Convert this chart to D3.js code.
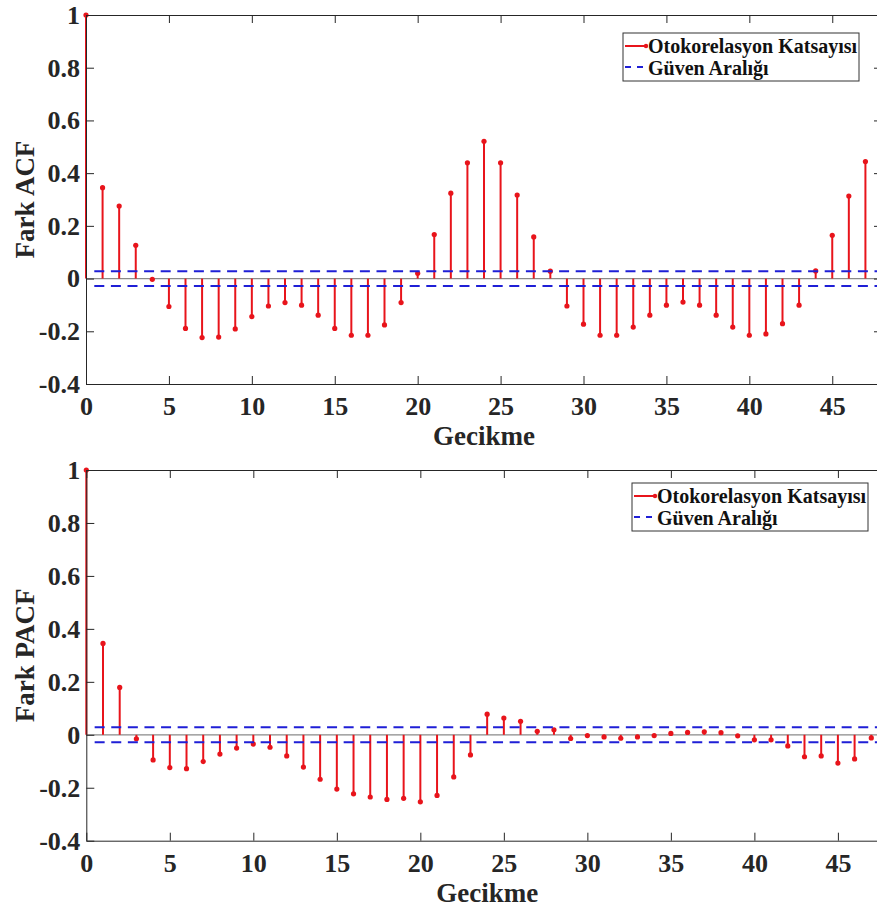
<!DOCTYPE html>
<html>
<head>
<meta charset="utf-8">
<script src="https://cdn.jsdelivr.net/npm/d3@7"></script>
<style>
  body { margin: 0; background: #fff; }
  svg { display: block; }
  .axis path, .axis line { stroke: #262626; stroke-width: 1; }
</style>
</head>
<body>
<svg id="chart" width="877" height="908"></svg>
<script>
// lags 0..47
const lags = d3.range(0, 48);

// differenced series ACF
const acfValues = [
  1.000, 0.345, 0.275, 0.126, -0.003, -0.106, -0.189, -0.224, -0.222, -0.191,
  -0.144, -0.104, -0.091, -0.101, -0.139, -0.189, -0.215, -0.215, -0.176, -0.091,
  0.020, 0.167, 0.324, 0.439, 0.521, 0.439, 0.317, 0.158, 0.028, -0.104,
  -0.173, -0.215, -0.215, -0.184, -0.139, -0.101, -0.089, -0.101, -0.139, -0.184,
  -0.215, -0.210, -0.171, -0.101, 0.029, 0.164, 0.313, 0.444
];

// differenced series PACF, bottom panel
const pacfValues = [
  1.000, 0.345, 0.179, -0.015, -0.095, -0.124, -0.128, -0.101, -0.073, -0.050,
  -0.035, -0.047, -0.080, -0.122, -0.168, -0.205, -0.223, -0.235, -0.244, -0.240,
  -0.253, -0.229, -0.159, -0.076, 0.078, 0.063, 0.051, 0.013, 0.019, -0.014,
  -0.003, -0.008, -0.013, -0.008, -0.003, 0.005, 0.009, 0.011, 0.008, -0.004,
  -0.019, -0.019, -0.042, -0.083, -0.080, -0.107, -0.091, -0.012
];

const confBound = 0.028;           // +/- confidence band
const boundStart = 0.5;            // bounds drawn from lag 0.5
const xDomain = [0, 48];
const yDomain = [-0.4, 1];
const xTicks = [0, 5, 10, 15, 20, 25, 30, 35, 40, 45];
const yTicks = [-0.4, -0.2, 0, 0.2, 0.4, 0.6, 0.8, 1];
const legendLabels = ['Otokorelasyon Katsayısı', 'Güven Aralığı'];

const FONT = '"Liberation Serif", "DejaVu Serif", "Times New Roman", serif';
const RED = '#e8141b';
const BLUE = '#1f1fd6';

const svg = d3.select('#chart');
svg.append('rect').attr('width', 877).attr('height', 908).attr('fill', '#fff');

const panels = [
  { values: acfValues, ylabel: 'Fark ACF', left: 86, right: 882, top: 15, bottom: 384, legend: { x: 623, y: 33 } },
  { values: pacfValues, ylabel: 'Fark PACF', left: 86.3, right: 888, top: 470, bottom: 840.7, legend: { x: 632, y: 483 } },
];

panels.forEach(drawPanel);

// matlab-style labels: plain hyphen, no trailing zeros on 0 and 1
function yFmt(d) {
  if (d === 0) return '0';
  if (d === 1) return '1';
  return (d < 0 ? '-' : '') + Math.abs(d).toFixed(1);
}

function styleAxis(sel) {
  sel.attr('font-family', FONT).attr('font-weight', 'bold').attr('font-size', 26);
  sel.selectAll('text').attr('fill', '#262626');
}

function drawPanel(p) {
  const x = d3.scaleLinear().domain(xDomain).range([p.left, p.right]);
  const y = d3.scaleLinear().domain(yDomain).range([p.bottom, p.top]);
  const g = svg.append('g');

  // zero line
  g.append('line')
    .attr('x1', x(xDomain[0])).attr('x2', x(xDomain[1]))
    .attr('y1', y(0)).attr('y2', y(0))
    .attr('stroke', '#8a8a8a').attr('stroke-width', 1.2);

  // stems
  g.append('g').selectAll('line.stem').data(lags)
    .join('line')
    .attr('class', 'stem')
    .attr('x1', (d) => x(d)).attr('x2', (d) => x(d))
    .attr('y1', y(0)).attr('y2', (d) => y(p.values[d]))
    .attr('stroke', RED).attr('stroke-width', 2);

  g.append('g').selectAll('circle').data(lags)
    .join('circle')
    .attr('cx', (d) => x(d)).attr('cy', (d) => y(p.values[d]))
    .attr('r', 2.6).attr('fill', RED);

  // confidence bounds (drawn over the stems)
  [confBound, -confBound].forEach((b) => {
    g.append('line')
      .attr('x1', x(boundStart)).attr('x2', x(xDomain[1]))
      .attr('y1', y(b)).attr('y2', y(b))
      .attr('stroke', BLUE).attr('stroke-width', 2)
      .attr('stroke-dasharray', '10,6.6');
  });

  // box axes, ticks pointing inward
  g.append('g').attr('class', 'axis')
    .attr('transform', `translate(0,${p.bottom})`)
    .call(d3.axisBottom(x).tickValues(xTicks).tickSizeInner(-8).tickSizeOuter(0).tickPadding(12.5))
    .call(styleAxis);
  g.append('g').attr('class', 'axis')
    .attr('transform', `translate(0,${p.top})`)
    .call(d3.axisTop(x).tickValues(xTicks).tickSizeInner(-8).tickSizeOuter(0).tickFormat(''));
  g.append('g').attr('class', 'axis')
    .attr('transform', `translate(${p.left},0)`)
    .call(d3.axisLeft(y).tickValues(yTicks).tickSizeInner(-8).tickSizeOuter(0).tickPadding(6).tickFormat(yFmt))
    .call(styleAxis);
  g.append('g').attr('class', 'axis')
    .attr('transform', `translate(${p.right},0)`)
    .call(d3.axisRight(y).tickValues(yTicks).tickSizeInner(-8).tickSizeOuter(0).tickFormat(''));

  // axis titles
  g.append('text')
    .attr('x', x(24))
    .attr('y', p.bottom + 61)
    .attr('text-anchor', 'middle')
    .attr('font-family', FONT).attr('font-weight', 'bold')
    .attr('font-size', 27).attr('fill', '#262626')
    .text('Gecikme');
  g.append('text')
    .attr('transform', `translate(34,${(p.top + p.bottom) / 2}) rotate(-90)`)
    .attr('text-anchor', 'middle')
    .attr('font-family', FONT).attr('font-weight', 'bold')
    .attr('font-size', 27).attr('fill', '#262626')
    .text(p.ylabel);

  // legend
  const lg = g.append('g').attr('transform', `translate(${p.legend.x},${p.legend.y})`);
  lg.append('rect').attr('width', 236).attr('height', 48)
    .attr('fill', '#fff').attr('stroke', '#333').attr('stroke-width', 1);
  lg.append('line').attr('x1', 2).attr('x2', 23).attr('y1', 13).attr('y2', 13)
    .attr('stroke', RED).attr('stroke-width', 2);
  lg.append('circle').attr('cx', 23).attr('cy', 13).attr('r', 2.2).attr('fill', RED);
  lg.append('line').attr('x1', 2).attr('x2', 23).attr('y1', 34).attr('y2', 34)
    .attr('stroke', BLUE).attr('stroke-width', 2).attr('stroke-dasharray', '6,6');
  legendLabels.forEach((t, i) => {
    lg.append('text')
      .attr('x', 25).attr('y', 20 + i * 22)
      .attr('font-family', FONT).attr('font-weight', 'bold')
      .attr('font-size', 20).attr('fill', '#111')
      .text(t);
  });
}
</script>
</body>
</html>
